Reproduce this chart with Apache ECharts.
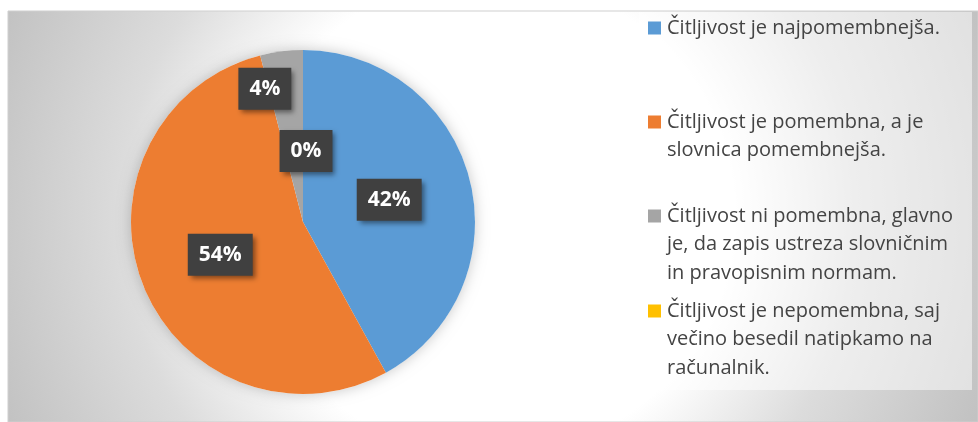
<!DOCTYPE html>
<html>
<head>
<meta charset="utf-8">
<script src="https://cdn.jsdelivr.net/npm/echarts@6/dist/echarts.min.js"></script>
<style>
  html, body { margin: 0; padding: 0; background: #fff; }
  #chart { width: 978px; height: 422px; }
</style>
</head>
<body>
<div id="chart"></div>
<script>
// answers (legend order = slice order, clockwise from 12 o'clock)
const categories = [
  'Čitljivost je najpomembnejša.',
  'Čitljivost je pomembna, a je slovnica pomembnejša.',
  'Čitljivost ni pomembna, glavno je, da zapis ustreza slovničnim in pravopisnim normam.',
  'Čitljivost je nepomembna, saj večino besedil natipkamo na računalnik.'
]
// wrapped legend text, as in the original
const legendLines = [
  ['Čitljivost je najpomembnejša.'],
  ['Čitljivost je pomembna, a je', 'slovnica pomembnejša.'],
  ['Čitljivost ni pomembna, glavno', 'je, da zapis ustreza slovničnim', 'in pravopisnim normam.'],
  ['Čitljivost je nepomembna, saj', 'večino besedil natipkamo na', 'računalnik.']
]
const shares = [42, 54, 4, 0]
const colors = ['#5b9bd5', '#ed7d31', '#a5a5a5', '#ffc000']

// layout
const center = [303, 222]
const radius = 172
const legendTops = [18, 112, 206, 301]
const labelNudge = { 2: [-27, -45], 3: [3, 18] }
const font = 'Open Sans, Noto Sans, sans-serif'

const chart = echarts.init(document.getElementById('chart'), null, { renderer: 'canvas' })

const legendRich = {
  t: { fontFamily: font, fontSize: 20, color: '#444444', lineHeight: 28.5 },
  gap: { width: 6, lineHeight: 28.5 },
  ind: { width: 19, lineHeight: 28.5 }
}
colors.forEach((c, i) => {
  legendRich['sq' + i] = { width: 13, height: 13, backgroundColor: c, lineHeight: 28.5 }
})

const legends = categories.map((name, i) => ({
  data: [name],
  orient: 'vertical',
  left: 643,
  top: legendTops[i],
  padding: 0,
  itemWidth: 0,
  itemHeight: 0,
  selectedMode: false,
  itemStyle: { opacity: 0 },
  formatter: () => legendLines[i]
    .map((line, k) => (k === 0 ? `{sq${i}|}{gap|}` : '{ind|}') + `{t|${line}}`)
    .join('\n'),
  textStyle: { rich: legendRich }
}))

chart.setOption({
  animation: false,
  backgroundColor: '#fff',
  graphic: [
    {
      type: 'rect',
      shape: { x: 8, y: 11, width: 970, height: 411 },
      style: {
        fill: {
          type: 'radial', x: 490, y: 216, r: 525, global: true,
          colorStops: [
            { offset: 0, color: '#ffffff' },
            { offset: 0.46, color: '#ffffff' },
            { offset: 0.7, color: '#dcdcdc' },
            { offset: 1, color: '#c2c2c2' }
          ]
        },
        stroke: '#cfcfcf',
        lineWidth: 1
      },
      silent: true
    },
    {
      type: 'rect',
      shape: { x: 639, y: 12, width: 333, height: 378 },
      style: { fill: 'rgba(255,255,255,0.5)' },
      silent: true
    }
  ],
  legend: legends,
  series: [
    {
      // soft halo behind the pie
      type: 'pie',
      center,
      radius,
      silent: true,
      label: { show: false },
      labelLine: { show: false },
      itemStyle: { color: '#ffffff', shadowBlur: 14, shadowColor: 'rgba(0,0,0,0.22)' },
      data: [{ value: 1, name: '' }]
    },
    {
      type: 'pie',
      center,
      radius,
      startAngle: 90,
      clockwise: true,
      percentPrecision: 0,
      emphasis: { disabled: true },
      data: categories.map((name, i) => ({
        name,
        value: shares[i],
        itemStyle: { color: colors[i] }
      })),
      label: {
        show: true,
        position: 'inside',
        formatter: '{d}%',
        color: '#ffffff',
        fontFamily: font,
        fontWeight: 'bold',
        fontSize: 21,
        lineHeight: 26,
        backgroundColor: '#404040',
        padding: [8, 11],
        shadowBlur: 5,
        shadowOffsetX: 3,
        shadowOffsetY: 3,
        shadowColor: 'rgba(0,0,0,0.45)'
      },
      labelLine: { show: false },
      labelLayout: (p) => {
        const n = labelNudge[p.dataIndex]
        return n ? { dx: n[0], dy: n[1] } : {}
      }
    }
  ]
})
</script>
</body>
</html>
